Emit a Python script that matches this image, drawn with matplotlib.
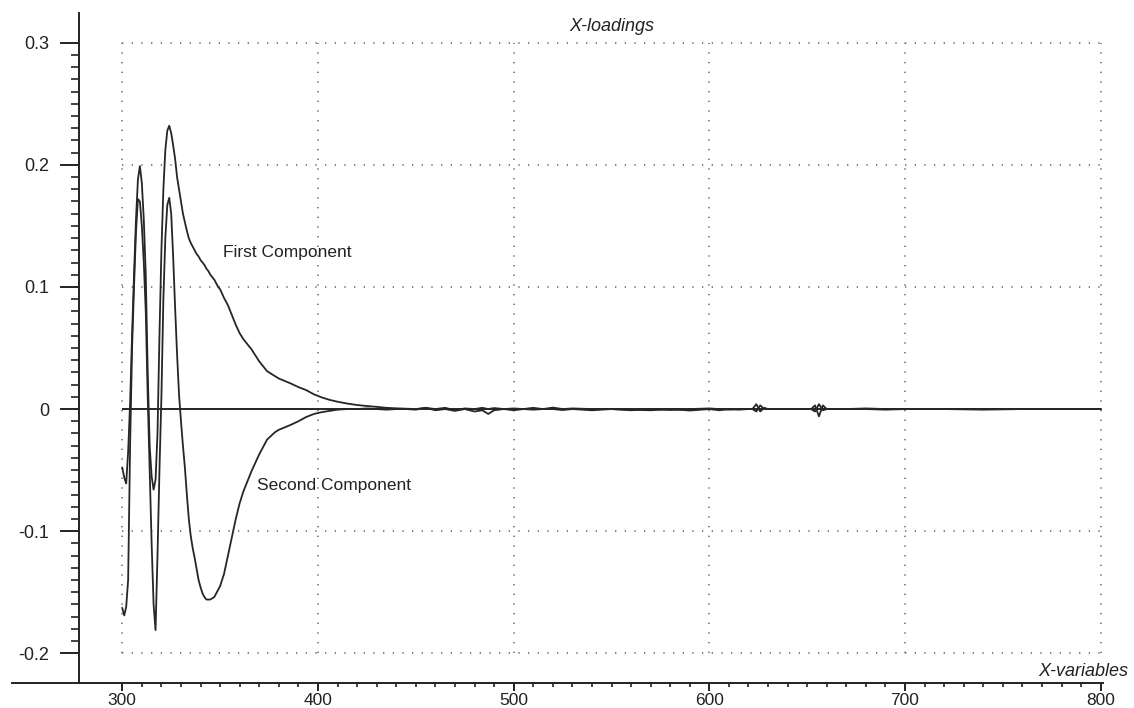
import numpy as np
import matplotlib
matplotlib.use('Agg')
import matplotlib.pyplot as plt
from matplotlib.ticker import FixedLocator

# loadings of the first two PLS components vs wavelength (nm)
wavelength = [300, 301, 302, 303, 304, 305, 306, 307, 308, 309,
              310, 311, 312, 313, 314, 315, 316, 317, 318, 319,
              320, 321, 322, 323, 324, 325, 326, 327, 328, 329,
              330, 331, 332, 333, 334, 335, 336, 337, 338, 339,
              340, 341, 342, 343, 344, 345, 346, 347, 348, 349,
              350, 352, 354, 356, 358, 360, 362, 364, 366, 368,
              370, 372, 374, 376, 378, 380, 383, 386, 390, 394,
              398, 402, 406, 410, 415, 420, 425, 430, 435, 440,
              445, 450, 455, 460, 465, 470, 475, 480, 484, 487,
              490, 495, 500, 505, 510, 515, 520, 525, 530, 540,
              550, 560, 570, 580, 590, 600, 605, 610, 615, 620,
              622, 624, 626, 628, 630, 640, 650, 652, 654, 656,
              658, 660, 662, 670, 680, 690, 700, 720, 740, 760,
              780, 800]

first_comp = [-0.048, -0.056, -0.061, -0.035, 0.005, 0.060, 0.110, 0.155, 0.188, 0.199,
              0.185, 0.155, 0.110, 0.030, -0.030, -0.055, -0.066, -0.058, -0.020, 0.060,
              0.130, 0.180, 0.212, 0.228, 0.232, 0.226, 0.216, 0.205, 0.190, 0.180,
              0.170, 0.160, 0.153, 0.146, 0.140, 0.136, 0.133, 0.130, 0.127, 0.125,
              0.122, 0.120, 0.118, 0.115, 0.113, 0.110, 0.108, 0.106, 0.103, 0.100,
              0.098, 0.091, 0.085, 0.077, 0.069, 0.062, 0.057, 0.053, 0.049, 0.044,
              0.039, 0.035, 0.031, 0.029, 0.027, 0.025, 0.023, 0.021, 0.018, 0.0155,
              0.012, 0.0095, 0.0075, 0.006, 0.0045, 0.0033, 0.0025, 0.0018, 0.001, 0.0006,
              0.0003, 0.0, 0.001, 0.0, 0.001, -0.001, 0.0005, 0.0, 0.001, 0.0,
              0.0008, 0.0, 0.0005, 0.0, 0.001, 0.0, 0.0012, 0.0, 0.0005, 0.0,
              0.0, -0.001, 0.0, -0.0008, 0.0, 0.0005, 0.0, -0.0005, 0.0, 0.0,
              0.0, 0.004, -0.002, 0.001, 0.0, 0.0, 0.0, 0.0, 0.003, -0.006,
              0.003, 0.0, 0.0, 0.0, 0.0005, 0.0, 0.0, 0.0, -0.0005, 0.0,
              0.0, 0.0]

second_comp = [-0.163, -0.169, -0.162, -0.140, -0.030, 0.050, 0.100, 0.145, 0.172, 0.170,
               0.150, 0.120, 0.080, 0.010, -0.050, -0.110, -0.160, -0.181, -0.120, -0.050,
               0.010, 0.090, 0.140, 0.167, 0.173, 0.160, 0.125, 0.083, 0.045, 0.012,
               -0.010, -0.030, -0.048, -0.070, -0.090, -0.104, -0.114, -0.122, -0.131, -0.140,
               -0.146, -0.151, -0.154, -0.156, -0.156, -0.156, -0.155, -0.154, -0.151, -0.148,
               -0.145, -0.135, -0.120, -0.105, -0.090, -0.077, -0.067, -0.059, -0.051, -0.044,
               -0.037, -0.031, -0.025, -0.022, -0.019, -0.017, -0.015, -0.013, -0.010, -0.0065,
               -0.004, -0.0025, -0.0015, -0.0005, 0.0, 0.0, 0.0005, 0.0, -0.0005, 0.0,
               0.0, -0.0005, 0.001, -0.001, 0.0, -0.0015, 0.0, -0.002, -0.001, -0.004,
               -0.001, 0.0, -0.001, 0.0, -0.0005, 0.0, 0.0, -0.0008, 0.0, -0.001,
               0.0, -0.0005, -0.001, 0.0, -0.0012, 0.0, -0.001, 0.0, -0.0005, 0.0,
               0.0, -0.002, 0.003, 0.0, 0.0, 0.0, 0.0, 0.0, -0.002, 0.004,
               -0.001, 0.0, 0.0, 0.0, 0.0, -0.0005, 0.0, 0.0, 0.0, 0.0,
               0.0, 0.0]

x_major = [300, 400, 500, 600, 700, 800]
y_major = [-0.2, -0.1, 0, 0.1, 0.2, 0.3]
y_labels = ['-0.2', '-0.1', '0', '0.1', '0.2', '0.3']

plt.rcParams['font.family'] = ['Liberation Sans', 'DejaVu Sans']
plt.rcParams['axes.unicode_minus'] = False

fig = plt.figure(figsize=(11.34, 7.08), dpi=100)
ax = fig.add_axes([12 / 1134, 1 - 683.3 / 708, (1102.7 - 12) / 1134, (683.3 - 12.7) / 708])
ax.set_xlim(243.65, 801)
ax.set_ylim(-0.2246, 0.3246)

# dotted grid only inside the data window
dots = (0, (0.8, 5))
ax.hlines([-0.2, -0.1, 0.1, 0.2, 0.3], 300, 800, colors='#707070', linestyles=dots, lw=1.2)
ax.vlines(x_major, -0.2, 0.3, colors='#707070', linestyles=dots, lw=1.2)
ax.hlines(0, 300, 800, colors='black', lw=1.2)

ax.plot(wavelength, first_comp, color='#262626', lw=1.3, clip_on=False)
ax.plot(wavelength, second_comp, color='#262626', lw=1.3, clip_on=False)

ax.text(351.6, 0.1286, 'First Component', fontsize=12.5, color='#222222', ha='left', va='center')
ax.text(369, -0.063, 'Second Component', fontsize=12.5, color='#222222', ha='left', va='center')
ax.text(550, 0.313, 'X-loadings', fontsize=13, style='italic', color='#222222', ha='center', va='center')
fig.text(1128 / 1134, 1 - 671 / 708, 'X-variables', fontsize=13, style='italic',
         color='#222222', ha='right', va='center')

# axes: y spine sits left of the data, x spine runs the whole width
ax.spines['top'].set_visible(False)
ax.spines['right'].set_visible(False)
ax.spines['left'].set_position(('data', 278))
ax.spines['left'].set_linewidth(1.4)
ax.spines['bottom'].set_linewidth(1.4)
ax.spines['left'].set_color('#222222')
ax.spines['bottom'].set_color('#222222')

ax.set_xticks(x_major)
ax.xaxis.set_minor_locator(FixedLocator(np.arange(300, 801, 10)))
ax.set_yticks(y_major)
ax.set_yticklabels(y_labels)
ax.yaxis.set_minor_locator(FixedLocator(np.arange(-0.2, 0.3001, 0.01)))

ax.tick_params(axis='y', which='major', length=13.7, width=1.4, pad=8, labelsize=13,
               colors='#222222')
ax.tick_params(axis='y', which='minor', length=5.8, width=1.2, colors='#222222')
ax.tick_params(axis='x', which='major', length=5.8, width=1.4, pad=1, labelsize=12.5,
               colors='#222222')
ax.tick_params(axis='x', which='minor', length=2.9, width=1.2, colors='#222222')

fig.savefig('out.png', dpi=100)
